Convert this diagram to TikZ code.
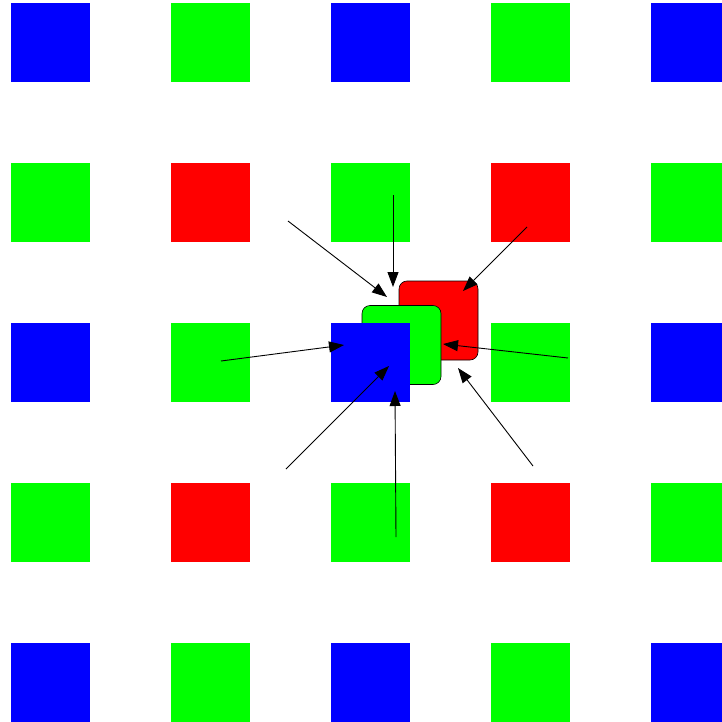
\documentclass[tikz,border=0pt]{standalone}
\usepackage{xcolor}
\usetikzlibrary{arrows.meta}
\definecolor{bayerred}{HTML}{FF0000}
\definecolor{bayergreen}{HTML}{00FF00}
\definecolor{bayerblue}{HTML}{0000FF}

\begin{document}
\begin{tikzpicture}[x=1pt, y=-1pt,
  pixel/.style={minimum size=79pt, inner sep=0pt, outer sep=0pt},
  merged/.style={pixel, draw=black, line width=0.6pt, rounded corners=8pt},
  feed/.style={line width=0.9pt, -{Triangle[length=15pt, width=11pt]}}]
  \useasboundingbox (0,0) rectangle (721,722);

  % interpolated pixel
  \node[merged, fill=bayerred] (outred) at (438.5,320.5) {};
  \node[merged, fill=bayergreen] (outgreen) at (401.5,345) {};

  % sensor mosaic
  \foreach \i in {0,...,4} {
    \foreach \j in {0,...,4} {
      \pgfmathtruncatemacro{\ie}{mod(\i,2)}
      \pgfmathtruncatemacro{\je}{mod(\j,2)}
      \ifnum\ie=0 \ifnum\je=0 \def\pc{bayerblue}\else\def\pc{bayergreen}\fi
      \else \ifnum\je=1 \def\pc{bayerred}\else\def\pc{bayergreen}\fi\fi
      \node[pixel, fill=\pc] (p-\i-\j) at ({50.5+160*\i},{42.5+160*\j}) {};
    }
  }

  % arrow ends
  \coordinate (s1) at (288,221);
  \coordinate (t1) at (387,297);
  \coordinate (s2) at (393,195);
  \coordinate (t2) at (393,287);
  \coordinate (s3) at (527,227);
  \coordinate (t3) at (463,291);
  \coordinate (s4) at (221,361);
  \coordinate (t4) at (344,345);
  \coordinate (s5) at (568,358);
  \coordinate (t5) at (443,344);
  \coordinate (s6) at (286,469);
  \coordinate (t6) at (389,366);
  \coordinate (s7) at (396,537);
  \coordinate (t7) at (395,391);
  \coordinate (s8) at (533,466);
  \coordinate (t8) at (458,368);

  \foreach \k in {1,...,8}
    \draw[feed] (s\k) -- (t\k);
\end{tikzpicture}
\end{document}
